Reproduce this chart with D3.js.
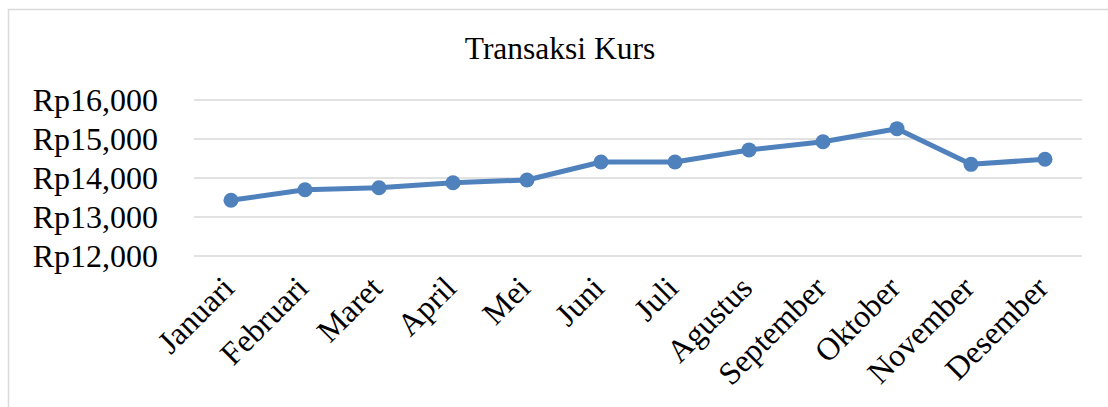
<!DOCTYPE html>
<html>
<head>
<meta charset="utf-8">
<script src="https://cdn.jsdelivr.net/npm/d3@7"></script>
<style>
  body { margin: 0; background: #fff; }
  svg { display: block; font-family: "Liberation Serif", "Times New Roman", serif; }
</style>
</head>
<body>
<div id="chart-container"></div>
<script>
// data
var months = ["Januari", "Februari", "Maret", "April", "Mei", "Juni", "Juli",
  "Agustus", "September", "Oktober", "November", "Desember"];
var kurs = [13430, 13700, 13750, 13880, 13950, 14410, 14410, 14720, 14930, 15265, 14350, 14480];
var yTicks = [12000, 13000, 14000, 15000, 16000];

var width = 1108, height = 407;
var margin = { top: 100, right: 26, bottom: 151, left: 194 };

var svg = d3.select("#chart-container")
  .append("svg")
  .attr("width", width)
  .attr("height", height);

// chart area border (runs off the page on right and bottom)
svg.append("rect")
  .attr("x", 8.5)
  .attr("y", 9.5)
  .attr("width", 1120)
  .attr("height", 420)
  .attr("fill", "#fff")
  .attr("stroke", "#d9d9d9")
  .attr("stroke-width", 1.5);

// title
svg.append("text")
  .attr("x", 560)
  .attr("y", 59)
  .attr("text-anchor", "middle")
  .style("font-size", "31.5px")
  .attr("fill", "#000")
  .text("Transaksi Kurs");

var x = d3.scaleBand()
  .domain(months)
  .range([margin.left, width - margin.right]);

var y = d3.scaleLinear()
  .domain([12000, 16000])
  .range([height - margin.bottom, margin.top]);

// gridlines
svg.append("g")
  .selectAll("line")
  .data(yTicks)
  .enter()
  .append("line")
  .attr("x1", margin.left)
  .attr("x2", width - margin.right)
  .attr("y1", d => y(d))
  .attr("y2", d => y(d))
  .attr("stroke", "#d9d9d9")
  .attr("stroke-width", 1.5);

// y axis
var yAxis = svg.append("g")
  .attr("transform", "translate(" + (margin.left - 36) + ",0)")
  .call(d3.axisLeft(y).tickValues(yTicks).tickSize(0).tickPadding(0)
    .tickFormat(d => "Rp" + d3.format(",")(d)));
yAxis.select(".domain").remove();
yAxis.selectAll("text")
  .style("font-size", "32px")
  .style("font-family", "Liberation Serif, Times New Roman, serif")
  .attr("fill", "#000");

// x axis labels (rotated)
var xAxis = svg.append("g")
  .attr("transform", "translate(0," + (height - margin.bottom) + ")")
  .call(d3.axisBottom(x).tickSize(0).tickPadding(0));
xAxis.select(".domain").remove();
xAxis.selectAll("text")
  .attr("y", 0)
  .attr("dy", 0)
  .attr("transform", "translate(5,34)rotate(-45)")
  .style("text-anchor", "end")
  .style("font-size", "32px")
  .style("font-family", "Liberation Serif, Times New Roman, serif")
  .attr("fill", "#000");

// line
var line = d3.line()
  .x((d, i) => x(months[i]) + x.bandwidth() / 2)
  .y(d => y(d));

svg.append("path")
  .datum(kurs)
  .attr("d", line)
  .attr("fill", "none")
  .attr("stroke", "#4f81bd")
  .attr("stroke-width", 5)
  .attr("stroke-linejoin", "round");

svg.selectAll(".dot")
  .data(kurs)
  .enter()
  .append("circle")
  .attr("class", "dot")
  .attr("cx", (d, i) => x(months[i]) + x.bandwidth() / 2)
  .attr("cy", d => y(d))
  .attr("r", 7.5)
  .attr("fill", "#4f81bd");
</script>
</body>
</html>
